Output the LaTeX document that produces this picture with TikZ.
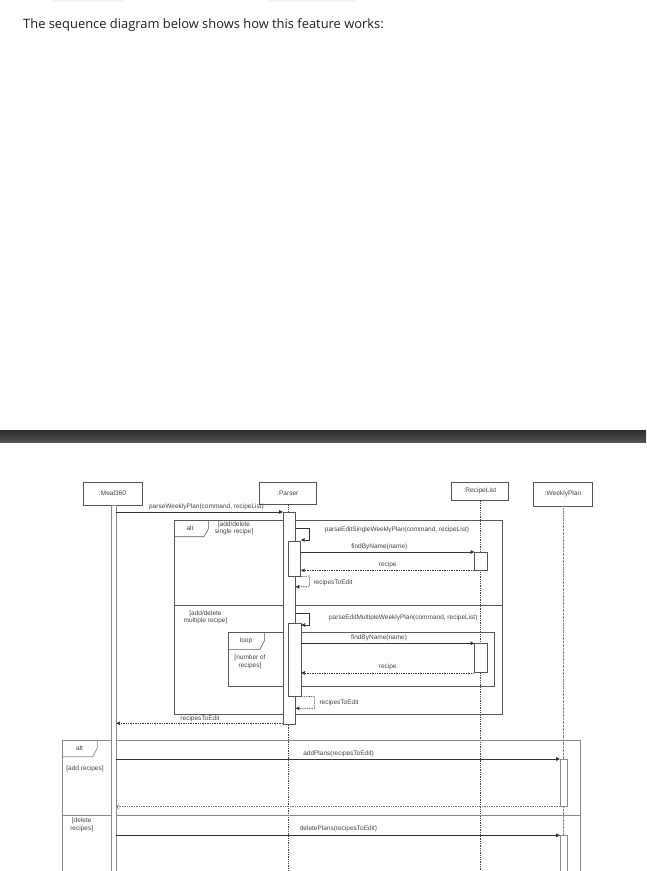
\documentclass[tikz,border=0pt]{standalone}
\usepackage{fontspec}
\setmainfont{Liberation Sans}
\newfontfamily\headfont{Open Sans}
\usetikzlibrary{arrows.meta}
\definecolor{ink}{HTML}{444444}
\definecolor{lineg}{HTML}{555555}
\definecolor{lightg}{HTML}{8A8A8A}
\begin{document}
\begin{tikzpicture}[x=1pt,y=-1pt,
  lab/.style={font=\fontsize{6.5}{7.6}\selectfont, text=ink, inner sep=0pt, align=center},
  headbox/.style={draw=lineg, line width=0.6pt, fill=white, font=\fontsize{6.6}{7.6}\selectfont, text=ink, inner sep=0pt},
  actbar/.style={draw=lineg, fill=white, line width=0.6pt, inner sep=0pt, anchor=north west},
  graybar/.style={actbar, draw=lightg, line width=0.7pt},
  msg/.style={draw=black!80, line width=0.6pt, -{Triangle[length=3.8pt,width=3.6pt]}},
  ret/.style={msg, dash pattern=on 1.4pt off 1pt},
  openret/.style={draw=black!55, line width=0.5pt, dash pattern=on 1.4pt off 1pt, -{Straight Barb[length=2.5pt,width=5pt]}},
  life/.style={draw=black!75, line width=0.5pt, dash pattern=on 1.3pt off 1pt},
  frameline/.style={draw=black!65, line width=0.6pt},
  outerframe/.style={draw=lightg, line width=0.7pt},
]
\useasboundingbox (0,0) rectangle (646,871);
% faint top remnants
\fill[black!5] (52.7,0) rectangle (124.3,1.5);
\fill[black!5] (266.7,0) rectangle (357,1.5);
% heading
\node[anchor=west, inner sep=0pt, text=black!88, font=\headfont\fontsize{12.9}{15}\selectfont] (title) at (23,25) {The sequence diagram below shows how this feature works:};
% dark separator bar
\shade[top color=black!82, bottom color=black!68] (0,430) rectangle (646,442);
\coordinate (bottom) at (0,871);
% lifeline heads
\node[headbox, minimum width=59pt, minimum height=23pt] (meal) at (112.5,493.5) {:Meal360};
\node[headbox, minimum width=57pt, minimum height=22pt] (parser) at (287.8,493) {:Parser};
\node[headbox, minimum width=57pt, minimum height=18pt] (rlist) at (479.8,491) {:RecipeList};
\node[headbox, minimum width=59pt, minimum height=24pt] (wplan) at (563,494) {:WeeklyPlan};
% lifelines
\draw[life] (parser.south) -- (parser.south |- bottom);
\draw[life] (rlist.south) -- (rlist.south |- bottom);
\draw[life, draw=black!50, dash pattern=on 0.8pt off 0.6pt] (wplan.south) -- (wplan.south |- bottom);
% inner alt frame
\draw[frameline] (174,520) rectangle (502,714);
\draw[frameline] (174,536.7) -- (204,536.7) -- (208.3,529) -- (208.3,520);
\node[lab] (altA) at (190,528) {alt};
\node[lab] (g1) at (234,528.5) {[add/delete\\single recipe]};
\draw[frameline] (174,605) -- (502,605);
\node[lab] (g2) at (205.5,617.2) {[add/delete\\multiple recipe]};
% loop frame
\draw[frameline] (228.3,632) rectangle (494.3,686);
\draw[frameline] (228.3,649.3) -- (260,649.3) -- (264.3,641) -- (264.3,632);
\node[lab] (loopl) at (246,640.5) {loop};
\node[lab] (g3) at (250,661.7) {[number of\\recipes]};
% outer alt frame
\draw[outerframe] (62,871) -- (62,740) -- (580,740) -- (580,871);
\draw[outerframe] (62,756.7) -- (92.7,756.7) -- (97.3,748) -- (97.3,740);
\node[lab] (altB) at (79.5,748.5) {alt};
\node[lab] (g4) at (85,769.3) {[add recipes]};
\draw[outerframe] (62,815.3) -- (580,815.3);
\node[lab] (g5) at (81.7,825) {[delete\\recipes]};
% activation bars
\node[graybar, minimum width=5pt, minimum height=366pt] (mbar) at (110.5,505) {};
\node[actbar, minimum width=12pt, minimum height=212pt] (pbar) at (283,512) {};
\node[actbar, minimum width=12pt, minimum height=35pt] (nb1) at (288.3,541) {};
\node[actbar, minimum width=12.3pt, minimum height=73pt] (nb2) at (288.3,623.3) {};
\node[actbar, minimum width=12.4pt, minimum height=17.7pt] (rb1) at (474.3,552) {};
\node[actbar, minimum width=12.4pt, minimum height=29pt] (rb2) at (474.3,643.3) {};
\node[graybar, minimum width=6.5pt, minimum height=47pt] (wb1) at (560,759) {};
\node[graybar, minimum width=6.5pt, minimum height=36pt] (wb2) at (560,835.3) {};
% messages
\draw[msg] (mbar.east |- 0,512) -- (pbar.west |- 0,512);
\node[lab] (m1) at (206.5,506.5) {parseWeeklyPlan(command, recipeList)};
\draw[msg] (pbar.east |- 0,528.3) -- (309.3,528.3) -- (309.3,540) -- (nb1.east |- 0,540);
\node[lab] (m2) at (397,530) {parseEditSingleWeeklyPlan(command, recipeList)};
\draw[msg] (nb1.east |- rb1.north) -- (rb1.north west);
\node[lab] (m3) at (379.3,546.8) {findByName(name)};
\draw[ret] (rb1.south west) -- (nb1.east |- rb1.south);
\node[lab] (m4) at (387.7,564.8) {recipe};
\draw[ret] (nb1.south east) -- (309.3,576) -- (309.3,586.7) -- (pbar.east |- 0,586.7);
\node[lab, anchor=west] (m5) at (313.3,582.5) {recipesToEdit};
\draw[msg] (pbar.east |- 0,613.3) -- (309.3,613.3) -- (309.3,625) -- (nb2.east |- 0,625);
\node[lab] (m6) at (403.3,617.7) {parseEditMultipleWeeklyPlan(command, recipeList)};
\draw[msg] (nb2.east |- rb2.north) -- (rb2.north west);
\node[lab] (m7) at (379,637.7) {findByName(name)};
\draw[ret] (rb2.south west) -- (nb2.east |- rb2.south);
\node[lab] (m8) at (387.7,666.6) {recipe};
\draw[ret] (nb2.south east) -- (314.3,696.3) -- (314.3,708.3) -- (pbar.east |- 0,708.3);
\node[lab, anchor=west] (m9) at (319.3,702.6) {recipesToEdit};
\draw[ret] (pbar.west |- 0,723.3) -- (mbar.east |- 0,723.3);
\node[lab] (m10) at (200,719.2) {recipesToEdit};
\draw[msg] (mbar.east |- wb1.north) -- (wb1.north west);
\node[lab] (m11) at (338.5,754) {addPlans(recipesToEdit)};
\draw[openret] (wb1.south west) -- (mbar.east |- wb1.south);
\draw[msg] (mbar.east |- wb2.north) -- (wb2.north west);
\node[lab] (m12) at (338.5,829.3) {deletePlans(recipesToEdit)};
\end{tikzpicture}
\end{document}
